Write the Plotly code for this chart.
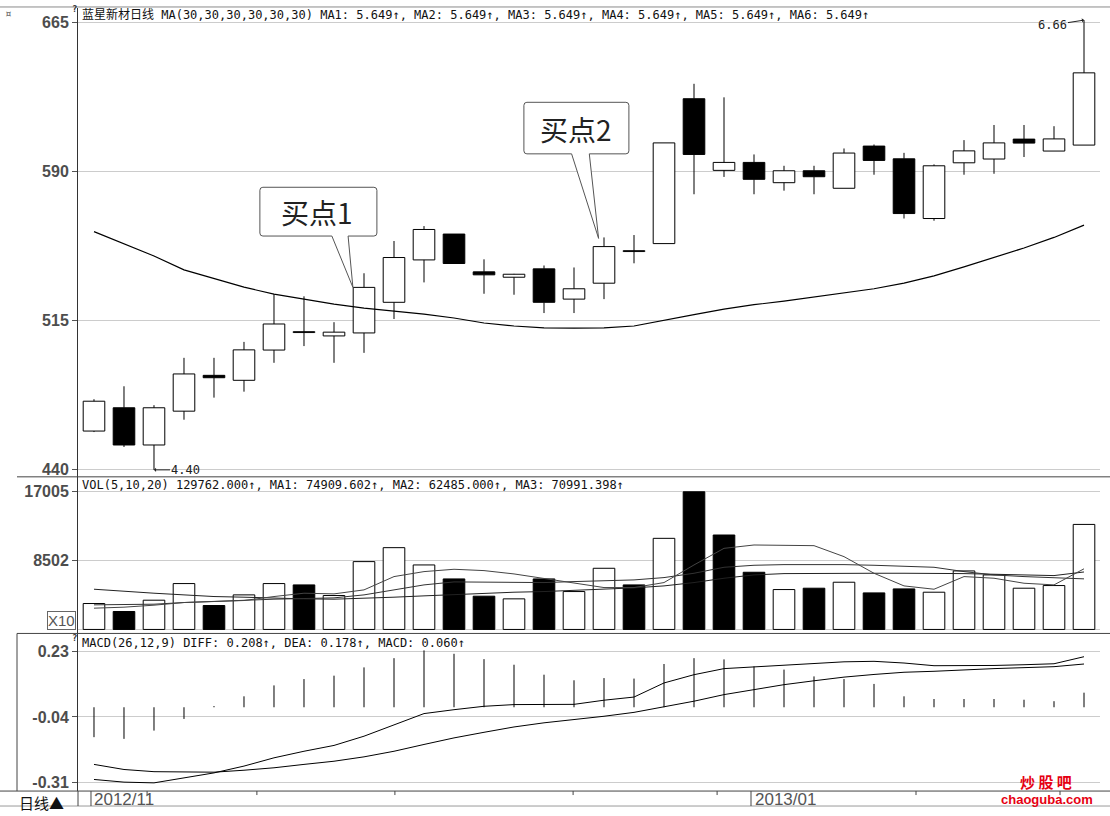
import plotly.graph_objects as go

W, H = 1110, 816

# ---------------- data ----------------
days = list(range(34))
opens  = [459.5, 471.2, 452.5, 469.5, 487.5, 485.0, 500.2, 509.0, 507.3, 508.8,
          524.2, 545.5, 558.5, 539.5, 536.8, 541.0, 525.8, 533.8, 549.7, 553.7,
          626.5, 590.5, 594.5, 584.3, 590.3, 581.5, 602.7, 596.3, 566.3, 594.3,
          596.2, 606.2, 600.2, 603.2]
highs  = [475.5, 482.0, 472.5, 496.3, 496.3, 504.3, 528.3, 527.2, 514.2, 538.8,
          555.0, 562.5, 558.5, 545.8, 538.5, 542.7, 541.7, 556.8, 558.0, 604.3,
          634.0, 627.2, 598.5, 592.8, 592.8, 601.5, 603.5, 599.3, 593.5, 605.7,
          613.3, 613.3, 612.7, 666.0]
lows   = [459.0, 451.5, 440.0, 465.2, 476.3, 479.3, 493.8, 502.2, 493.8, 498.8,
          515.8, 534.2, 543.7, 528.5, 528.0, 518.8, 518.8, 525.8, 543.8, 553.7,
          578.5, 587.2, 578.5, 580.3, 578.5, 581.5, 588.3, 566.3, 565.2, 588.3,
          588.8, 597.2, 600.2, 603.2]
closes = [474.5, 452.5, 471.2, 488.2, 486.3, 500.3, 513.3, 509.0, 509.2, 531.7,
          546.7, 560.8, 543.7, 538.0, 538.3, 524.2, 531.0, 552.2, 549.7, 604.3,
          598.5, 594.5, 586.0, 590.3, 587.3, 599.2, 595.5, 568.8, 592.8, 600.3,
          604.3, 604.2, 606.3, 639.5]
ma30   = [559.7, 553.8, 547.5, 540.5, 536.3, 531.8, 528.3, 525.8, 523.3, 521.3,
          519.7, 518.3, 516.3, 513.8, 512.3, 511.3, 511.2, 511.3, 512.3, 515.3,
          518.0, 520.8, 523.0, 524.8, 526.8, 528.8, 531.0, 533.8, 537.5, 542.0,
          546.8, 551.5, 556.8, 563.0]

volume = [3204, 2218, 3614, 5668, 2957, 4271, 5668, 5504, 4190, 8379,
          10104, 7968, 6242, 4108, 3779, 6242, 4682, 7558, 5504, 11255,
          17005, 11666, 7065, 4929, 5093, 5833, 4518, 5011, 4600, 7229,
          6736, 5093, 5422, 12976]
vol_up = [1, 0, 1, 1, 0, 1, 1, 0, 1, 1, 1, 1, 0, 0, 1, 0, 1, 1, 0, 1,
          0, 0, 0, 1, 0, 1, 0, 0, 1, 1, 1, 1, 1, 1]
vol_ma5 = [2628, 2752, 2998, 3327, 3450, 3573, 4066, 4477, 4394, 4887,
           6530, 7146, 7434, 7269, 6859, 6325, 5709, 5175, 5175, 5791,
           7968, 10021, 10432, 10432, 10350, 8994, 6941, 5380, 4969, 6530,
           6325, 5709, 5503, 7491]
vol_ma10 = [3039, 3080, 3121, 3327, 3491, 3655, 3737, 3819, 3902, 4271,
            4887, 5503, 5873, 5873, 5791, 5791, 5914, 6037, 6119, 6407,
            6941, 7680, 7927, 8009, 8050, 8009, 7927, 7844, 7680, 7146,
            6736, 6530, 6407, 6249]
vol_ma20 = [4969, 4682, 4477, 4271, 4066, 3984, 3861, 3778, 3737, 3819,
            3984, 4148, 4312, 4477, 4600, 4682, 4805, 4969, 5134, 5380,
            5791, 6325, 6736, 6900, 6941, 6941, 6941, 6941, 6941, 6900,
            6818, 6736, 6653, 7099]

diff = [-0.297, -0.308, -0.311, -0.290, -0.270, -0.242, -0.208, -0.181, -0.157, -0.119,
        -0.071, -0.026, -0.010, 0.004, 0.011, 0.012, 0.012, 0.029, 0.042, 0.100,
        0.134, 0.159, 0.166, 0.171, 0.179, 0.187, 0.189, 0.182, 0.171, 0.171,
        0.172, 0.175, 0.179, 0.208]
dea = [-0.235, -0.256, -0.265, -0.267, -0.267, -0.259, -0.249, -0.235, -0.222, -0.204,
       -0.181, -0.153, -0.126, -0.103, -0.081, -0.064, -0.051, -0.037, -0.021, 0.001,
       0.025, 0.052, 0.073, 0.093, 0.109, 0.124, 0.135, 0.144, 0.148, 0.155,
       0.159, 0.163, 0.167, 0.178]
macd = [-0.123, -0.130, -0.096, -0.048, 0.005, 0.045, 0.090, 0.116, 0.130, 0.164,
        0.202, 0.234, 0.220, 0.198, 0.175, 0.134, 0.111, 0.120, 0.118, 0.178,
        0.202, 0.197, 0.168, 0.155, 0.127, 0.116, 0.096, 0.045, 0.034, 0.034,
        0.034, 0.031, 0.025, 0.060]

price_ticks = [440, 515, 590, 665]
price_tick_text = ["440", "515", "590", "665"]
vol_ticks = [8502, 17005]
vol_tick_text = ["8502", "17005"]
macd_ticks = [-0.31, -0.04, 0.23]
macd_tick_text = ["-0.31", "-0.04", "0.23"]
date_labels = ["2012/11", "2013/01"]
date_label_day = [0, 22]

main_header = ("蓝星新材日线 MA(30,30,30,30,30,30) MA1: 5.649↑, MA2: 5.649↑, "
               "MA3: 5.649↑, MA4: 5.649↑, MA5: 5.649↑, MA6: 5.649↑")
vol_header = "VOL(5,10,20) 129762.000↑, MA1: 74909.602↑, MA2: 62485.000↑, MA3: 70991.398↑"
macd_header = "MACD(26,12,9) DIFF: 0.208↑, DEA: 0.178↑, MACD: 0.060↑"


# ---------------- helpers ----------------
def py(p):
    return 1 - p / H


def pxx(p):
    return p / W


MONO = "DejaVu Sans Mono, Noto Sans CJK SC, monospace"
CJK = "Noto Sans CJK SC, sans-serif"

fig = go.Figure()

# wicks (split above/below body so bodies stay clean)
wx, wy = [], []
for i in days:
    top = max(opens[i], closes[i])
    bot = min(opens[i], closes[i])
    if highs[i] > top:
        wx += [i, i, None]
        wy += [top, highs[i], None]
    if lows[i] < bot:
        wx += [i, i, None]
        wy += [bot, lows[i], None]
fig.add_trace(go.Scatter(x=wx, y=wy, mode="lines", line=dict(color="black", width=1),
                         xaxis="x", yaxis="y", hoverinfo="skip", showlegend=False))

body_base = [min(o, c) for o, c in zip(opens, closes)]
body_h = [max(abs(c - o), 0.45) for o, c in zip(opens, closes)]
body_col = ["white" if c >= o else "black" for o, c in zip(opens, closes)]
fig.add_trace(go.Bar(x=days, y=body_h, base=body_base, width=0.72,
                     marker=dict(color=body_col, line=dict(color="black", width=1)),
                     xaxis="x", yaxis="y", hoverinfo="skip", showlegend=False))

fig.add_trace(go.Scatter(x=days, y=ma30, mode="lines", line=dict(color="black", width=1.2),
                         xaxis="x", yaxis="y", hoverinfo="skip", showlegend=False))

# volume
fig.add_trace(go.Bar(x=days, y=volume, width=0.72,
                     marker=dict(color=["white" if u else "black" for u in vol_up],
                                 line=dict(color="black", width=1)),
                     xaxis="x2", yaxis="y2", hoverinfo="skip", showlegend=False))
for ser, col in [(vol_ma20, "#222222"), (vol_ma10, "#333333"), (vol_ma5, "#444444")]:
    fig.add_trace(go.Scatter(x=days, y=ser, mode="lines", line=dict(color=col, width=1),
                             xaxis="x2", yaxis="y2", hoverinfo="skip", showlegend=False))

# MACD
hx, hy = [], []
for i in days:
    hx += [i, i, None]
    hy += [0, macd[i], None]
fig.add_trace(go.Scatter(x=hx, y=hy, mode="lines", line=dict(color="black", width=1),
                         xaxis="x3", yaxis="y3", hoverinfo="skip", showlegend=False))
for ser in (diff, dea):
    fig.add_trace(go.Scatter(x=days, y=ser, mode="lines", line=dict(color="black", width=1),
                             xaxis="x3", yaxis="y3", hoverinfo="skip", showlegend=False))

# ---------------- axes ----------------
xr = [-0.533, 33.533]
xdom = [pxx(78), pxx(1100)]
xcommon = dict(range=xr, domain=xdom, showgrid=False, zeroline=False,
               showticklabels=False, ticks="", fixedrange=True)
tickfont = dict(family="Liberation Sans, Arial, sans-serif", size=16, color="#4d4d4d", weight="bold")
ycommon = dict(showline=True, linecolor="#333333", linewidth=1, ticks="outside",
               ticklen=5, tickcolor="#555555", tickfont=tickfont,
               showgrid=True, gridcolor="#cccccc", gridwidth=1, fixedrange=True)

fig.update_layout(
    width=W, height=H, margin=dict(l=0, r=0, t=0, b=0),
    paper_bgcolor="white", plot_bgcolor="white", barmode="overlay", showlegend=False,
    xaxis=dict(anchor="y", **xcommon),
    xaxis2=dict(anchor="y2", **xcommon),
    xaxis3=dict(anchor="y3", **xcommon),
    yaxis=dict(anchor="x", domain=[py(478), py(8)], range=[436.5, 672.1],
               tickvals=price_ticks, ticktext=price_tick_text, zeroline=False, **ycommon),
    yaxis2=dict(anchor="x2", domain=[py(635), py(478)], range=[-493, 18853],
                tickvals=vol_ticks, ticktext=vol_tick_text, zeroline=True,
                zerolinecolor="#cccccc", zerolinewidth=1, **ycommon),
    yaxis3=dict(anchor="x3", domain=[py(793), py(635)], range=[-0.3447, 0.3037],
                tickvals=macd_ticks, ticktext=macd_tick_text, zeroline=False, **ycommon),
)

# ---------------- frame lines ----------------
shapes = []


def hline(y, x0, x1, color, width=1):
    shapes.append(dict(type="line", xref="paper", yref="paper", x0=pxx(x0), x1=pxx(x1),
                       y0=py(y), y1=py(y), line=dict(color=color, width=width)))


def vline(x, y0, y1, color, width=1):
    shapes.append(dict(type="line", xref="paper", yref="paper", x0=pxx(x), x1=pxx(x),
                       y0=py(y0), y1=py(y1), line=dict(color=color, width=width)))


hline(7, 0, 1110, "#8a8a8a")
hline(478, 17, 1110, "#444444")
hline(635, 17, 1110, "#444444")
hline(793, 0, 1110, "#444444")
hline(808, 0, 1110, "#9a9a9a")
vline(17, 635, 793, "#444444")
vline(78, 793, 808, "#444444")

# date separators
for d in date_label_day:
    shapes.append(dict(type="line", xref="x3", yref="paper", x0=d - 0.1, x1=d - 0.1,
                       y0=py(808), y1=py(793), line=dict(color="#444444", width=1)))
for t in [1.77, 5.43, 10.03, 15.97, 20.77, 27.4, 32.2]:
    shapes.append(dict(type="line", xref="x3", yref="paper", x0=t, x1=t,
                       y0=py(797), y1=py(793), line=dict(color="#444444", width=1)))


# ---------------- callouts ----------------
def callout(bx0, bx1, by0, by1, t0, t1, tipx, tipy):
    rx, ry = 0.1, 1.5
    path = (f"M {bx0+rx},{by1} L {bx1-rx},{by1} Q {bx1},{by1} {bx1},{by1-ry} "
            f"L {bx1},{by0+ry} Q {bx1},{by0} {bx1-rx},{by0} L {t1},{by0} L {tipx},{tipy} "
            f"L {t0},{by0} L {bx0+rx},{by0} Q {bx0},{by0} {bx0},{by0+ry} "
            f"L {bx0},{by1-ry} Q {bx0},{by1} {bx0+rx},{by1} Z")
    shapes.append(dict(type="path", xref="x", yref="y", path=path, fillcolor="white",
                       line=dict(color="#555555", width=1), layer="above"))


callout(5.53, 9.43, 557.5, 582.0, 7.93, 8.47, 9 - 0.37, closes[9])
callout(14.33, 17.83, 598.8, 624.7, 15.92, 16.51, 17 - 0.18, highs[17] - 0.5)

fig.update_layout(shapes=shapes)

# ---------------- annotations ----------------
ann = []


def ptext(x, y, text, size, family=MONO, color="#111111", xanchor="left", **kw):
    ann.append(dict(xref="paper", yref="paper", x=pxx(x), y=py(y), text=text,
                    showarrow=False, xanchor=xanchor, yanchor="middle",
                    font=dict(family=family, size=size, color=color), **kw))


ptext(80, 15, main_header, 12)
ptext(80, 486, vol_header, 12)
ptext(80, 645, macd_header, 12)

ptext(3, 14, "¤", 11, color="#555555")
ptext(70, 9, "<b>?</b>", 9, color="#333333")
ptext(70, 640, "<b>?</b>", 9, color="#333333")
ann.append(dict(xref="paper", yref="paper", x=pxx(61), y=py(622), text="X10",
                showarrow=False, xanchor="center", yanchor="middle",
                font=dict(family="Liberation Sans, sans-serif", size=15, color="#555555"),
                bordercolor="#666666", borderwidth=1, borderpad=0, bgcolor="white"))

ptext(17, 804, "日线▲", 15, family=CJK, color="#111111")
for lbl, d in zip(date_labels, date_label_day):
    ann.append(dict(xref="x3", yref="paper", x=d - 0.05, y=py(801), text=lbl,
                    showarrow=False, xanchor="left", yanchor="middle",
                    font=dict(family="Liberation Sans Narrow, Liberation Sans, sans-serif",
                              size=17, color="#555555")))

# callout texts
ann.append(dict(xref="x", yref="y", x=7.43, y=569.7, text="买点1", showarrow=False,
                font=dict(family=CJK, size=28, color="#222222")))
ann.append(dict(xref="x", yref="y", x=16.05, y=611.5, text="买点2", showarrow=False,
                font=dict(family=CJK, size=28, color="#222222")))

# extreme markers
lo_i = lows.index(min(lows))
hi_i = highs.index(max(highs))
ann.append(dict(xref="x", yref="y", x=lo_i, y=lows[lo_i], text=f"{lows[lo_i]/100:.2f}",
                showarrow=True, ax=32, ay=0, arrowhead=1, arrowsize=0.7, arrowwidth=1,
                arrowcolor="#222222", font=dict(family=MONO, size=12, color="#222222")))
ann.append(dict(xref="x", yref="y", x=hi_i, y=highs[hi_i], text=f"{highs[hi_i]/100:.2f}",
                showarrow=True, ax=-32, ay=5, arrowhead=1, arrowsize=0.7, arrowwidth=1,
                arrowcolor="#222222", font=dict(family=MONO, size=12, color="#222222")))

# watermark
ptext(1046, 783, "<b>炒 股 吧</b>", 15, family=CJK, color="#e60012", xanchor="center")
ptext(1047, 801, "<b>chaoguba.com</b>", 13, family="Liberation Sans, sans-serif",
      color="#e60012", xanchor="center")

fig.update_layout(annotations=ann)

fig.write_html("out.html", config={"displayModeBar": False, "staticPlot": True})
